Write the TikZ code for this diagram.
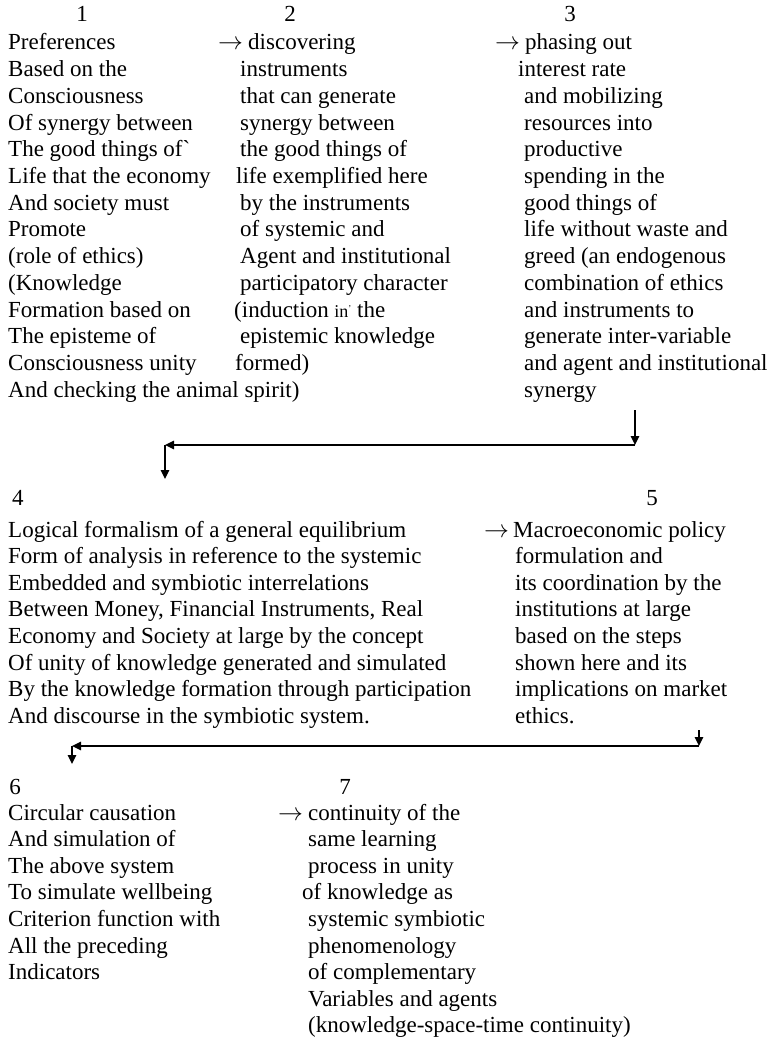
\documentclass[tikz,border=0pt]{standalone}
\usepackage{fontspec}
\setmainfont{Liberation Serif}
\usetikzlibrary{arrows.meta}
\tikzset{
  txt/.style={anchor=base west, inner sep=0pt, font=\fontsize{23}{26.5}\selectfont},
  num/.style={anchor=base, inner sep=0pt, font=\fontsize{23}{26.5}\selectfont},
  conn/.style={line width=1.3pt, -{Triangle[length=9pt,width=8.5pt]}}
}
\begin{document}
\begin{tikzpicture}[x=1pt,y=-1pt]
\useasboundingbox (0,0) rectangle (772,1038);
% ---- step numbers
\node[num] (n1) at (82,22) {1};
\node[num] (n2) at (290,22) {2};
\node[num] (n3) at (570,22) {3};
\node[num] (n4) at (18,505) {4};
\node[num] (n5) at (652,505) {5};
\node[num] (n6) at (15,794) {6};
\node[num] (n7) at (345,794) {7};
% ---- step 1
\foreach \dx/\t [count=\i from 0] in {0/Preferences, 0/Based on the, 0/Consciousness,
  0/Of synergy between, 0/{The good things of\textasciigrave}, 0/Life that the economy,
  0/And society must, 0/Promote, 0/(role of ethics), 0/(Knowledge, 0/Formation based on,
  0/The episteme of, 0/Consciousness unity, 0/And checking the animal spirit)}
  \node[txt] (s1-\i) at (8+\dx, 50+26.7*\i) {\t};
% ---- step 2
\node[txt] (a12) at (218,50) {$\rightarrow$};
\foreach \dx/\t [count=\i from 0] in {8/discovering, 0/instruments, 0/that can generate,
  0/synergy between, 0/the good things of, -4/life exemplified here, 0/by the instruments,
  0/of systemic and, 0/Agent and institutional, 0/participatory character,
  -6/{(induction {\fontsize{18}{18}\selectfont in}\raisebox{6pt}{\fontsize{9}{9}\selectfont '} the},
  0/epistemic knowledge, -5/formed)}
  \node[txt] (s2-\i) at (240+\dx, 50+26.7*\i) {\t};
% ---- step 3
\node[txt] (a23) at (495,50) {$\rightarrow$};
\foreach \dx/\t [count=\i from 0] in {1/phasing out, -6/interest rate, 0/and mobilizing,
  0/resources into, 0/productive, 0/spending in the, 0/good things of,
  0/life without waste and, 0/greed (an endogenous, 0/combination of ethics,
  0/and instruments to, 0/generate inter-variable, 0/and agent and institutional, 0/synergy}
  \node[txt] (s3-\i) at (524+\dx, 50+26.7*\i) {\t};
% ---- step 4
\foreach \t [count=\i from 0] in {Logical formalism of a general equilibrium,
  Form of analysis in reference to the systemic,
  Embedded and symbiotic interrelations,
  {Between Money, Financial Instruments, Real},
  Economy and Society at large by the concept,
  Of unity of knowledge generated and simulated,
  By the knowledge formation through participation,
  And discourse in the symbiotic system.}
  \node[txt] (s4-\i) at (8, 537+26.6*\i) {\t};
% ---- step 5
\node[txt] (a45) at (484,537) {$\rightarrow$};
\foreach \dx/\t [count=\i from 0] in {0/Macroeconomic policy, 2/formulation and,
  2/its coordination by the, 2/institutions at large, 2/based on the steps,
  2/shown here and its, 2/implications on market, 2/ethics.}
  \node[txt] (s5-\i) at (513+\dx, 537+26.6*\i) {\t};
% ---- step 6
\foreach \t [count=\i from 0] in {Circular causation, And simulation of, The above system,
  To simulate wellbeing, Criterion function with, All the preceding, Indicators}
  \node[txt] (s6-\i) at (8, 820+26.6*\i) {\t};
% ---- step 7
\node[txt] (a67) at (278,820) {$\rightarrow$};
\foreach \dx/\t [count=\i from 0] in {0/continuity of the, 0/same learning,
  0/process in unity, -6/of knowledge as, 0/systemic symbiotic, 0/phenomenology,
  0/of complementary, 0/Variables and agents, 0/(knowledge-space-time continuity)}
  \node[txt] (s7-\i) at (308+\dx, 820+26.6*\i) {\t};
% ---- connectors
\coordinate (p1) at (635,410);
\coordinate (p2) at (635,445);
\coordinate (p3) at (165,445);
\coordinate (p4) at (165,479);
\draw[conn] (p1) -- (p2);
\draw[conn] (p2) -- (p3);
\draw[conn] (p3) -- (p4);
\coordinate (q1) at (699,730);
\coordinate (q2) at (699,746);
\coordinate (q3) at (72,746);
\coordinate (q4) at (72,764);
\draw[conn] (q1) -- (q2);
\draw[conn] (q2) -- (q3);
\draw[conn] (q3) -- (q4);
\end{tikzpicture}
\end{document}
